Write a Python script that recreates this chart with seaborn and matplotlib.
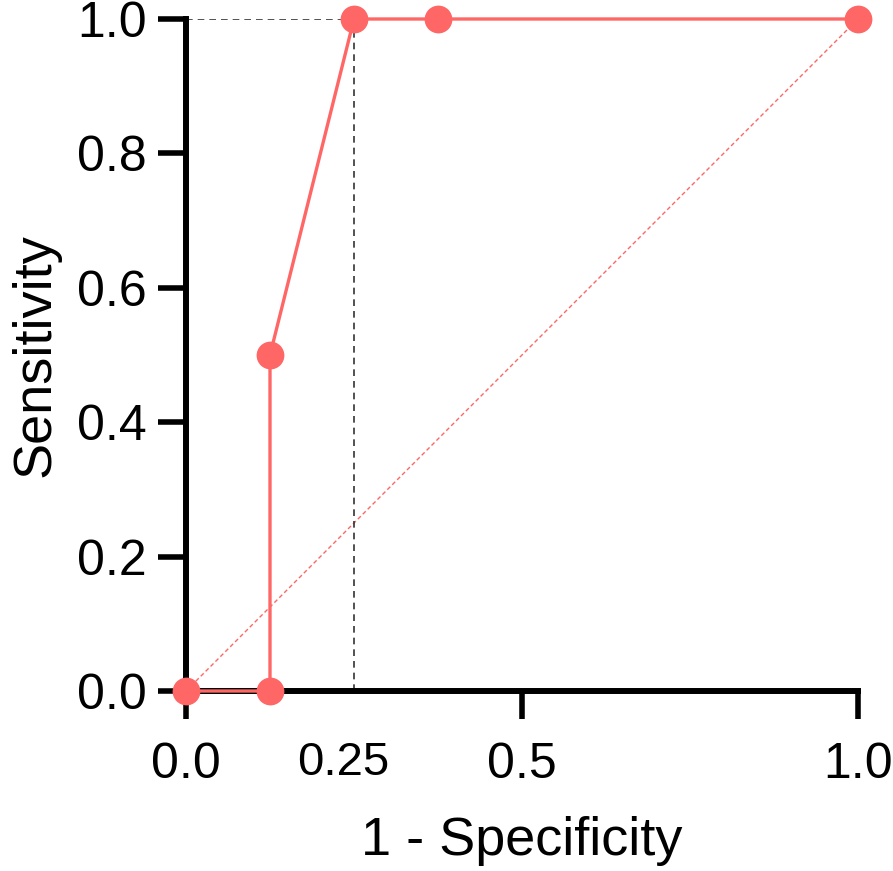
import seaborn as sns
import numpy as np
import matplotlib.pyplot as plt

# ROC data
fpr = [0.0, 0.125, 0.125, 0.25, 0.375, 1.0]
tpr = [0.0, 0.0, 0.5, 1.0, 1.0, 1.0]
chance = [0.0, 1.0]
cut_x = 0.25
cut_y = 1.0
xticks = [0.0, 0.5, 1.0]
xticklabels = ["0.0", "0.5", "1.0"]
yticks = [0.0, 0.2, 0.4, 0.6, 0.8, 1.0]

sns.set_style("ticks", rc={"text.color": "black", "axes.labelcolor": "black",
                           "xtick.color": "black", "ytick.color": "black"})
plt.rcParams['font.family'] = ['Liberation Sans', 'DejaVu Sans']

red = '#FF6666'

fig = plt.figure(figsize=(8.93, 8.71), dpi=100)
ax = fig.add_axes([186/893, (871-691)/871, 672/893, 672/871])

# chance diagonal
ax.plot(chance, chance, ls=(0, (3, 2)), lw=1.0, color=red, zorder=2)

# dashed cut-off guides
ax.plot([0, cut_x], [cut_y, cut_y], ls=(0, (4, 3)), lw=1.2, color='#333333', zorder=2)
ax.plot([cut_x, cut_x], [0, cut_y], ls=(0, (4, 3)), lw=1.2, color='#333333', zorder=2)

# roc curve
sns.lineplot(x=fpr, y=tpr, sort=False, estimator=None, ax=ax, color=red, lw=2.4,
             marker='o', markersize=20, markeredgewidth=0, zorder=5, clip_on=False)

ax.set_xlim(0, 1)
ax.set_ylim(0, 1)
ax.set_xticks(xticks)
ax.set_xticklabels(xticklabels)
ax.set_yticks(yticks)
ax.set_yticklabels([f"{v:.1f}" for v in yticks])

for s in ['top', 'right']:
    ax.spines[s].set_visible(False)
for s in ['left', 'bottom']:
    ax.spines[s].set_linewidth(4.3)
    ax.spines[s].set_color('black')

ax.tick_params(axis='both', length=20, width=4.0, color='black', labelsize=36, labelcolor='black')
ax.tick_params(axis='x', pad=17)
ax.tick_params(axis='y', pad=8)

ax.annotate("0.25", xy=(0.25, 0), xycoords=('data', 'axes fraction'),
            xytext=(-8, -36), textcoords='offset points', ha='center', va='top',
            fontsize=34)

ax.set_xlabel("1 - Specificity", fontsize=39, labelpad=20)
ax.set_ylabel("Sensitivity", fontsize=39, labelpad=12)

plt.savefig('out.png', dpi=100)
